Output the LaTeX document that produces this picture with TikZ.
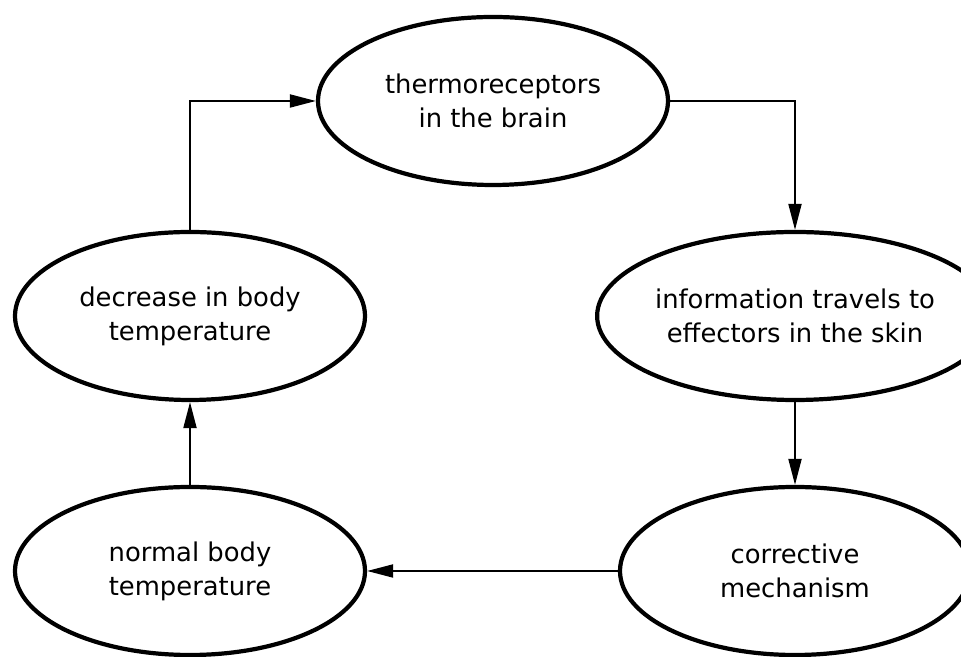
\documentclass[tikz,border=0pt]{standalone}
\usepackage{fontspec}
\setmainfont{DejaVu Sans}
\usetikzlibrary{arrows.meta,shapes.geometric}

\begin{document}
\begin{tikzpicture}
  [bubble/.style = {ellipse, draw, line width=2.4pt, minimum width=7cm,
                    minimum height=3.36cm, inner sep=0pt, align=center,
                    font=\fontsize{14.7}{19.4}\selectfont},
   link/.style = {line width=1.1pt, -{Triangle[length=5.2mm,width=2.6mm]}}]

\useasboundingbox (0,0) rectangle (19.22,13.14);

% Ellipses
\node[bubble] (brain)      at (9.86,11.12) {thermoreceptors\\in the brain};
\node[bubble] (decrease)   at (3.8,6.82)   {decrease in body\\temperature};
\node[bubble] (effectors)  at (15.9,6.82)  {information travels to\\effectors in the skin};
\node[bubble] (normal)     at (3.8,1.72)   {normal body\\temperature};
\node[bubble] (corrective) at (15.9,1.72)  {corrective\\mechanism};

% Loop of arrows
\draw[link] (decrease.north) |- (brain.west);
\draw[link] (brain.east) -| (effectors.north);
\draw[link] (effectors.south) -- (corrective.north);
\draw[link] (corrective.west) -- (normal.east);
\draw[link] (normal.north) -- (decrease.south);

\end{tikzpicture}
\end{document}
